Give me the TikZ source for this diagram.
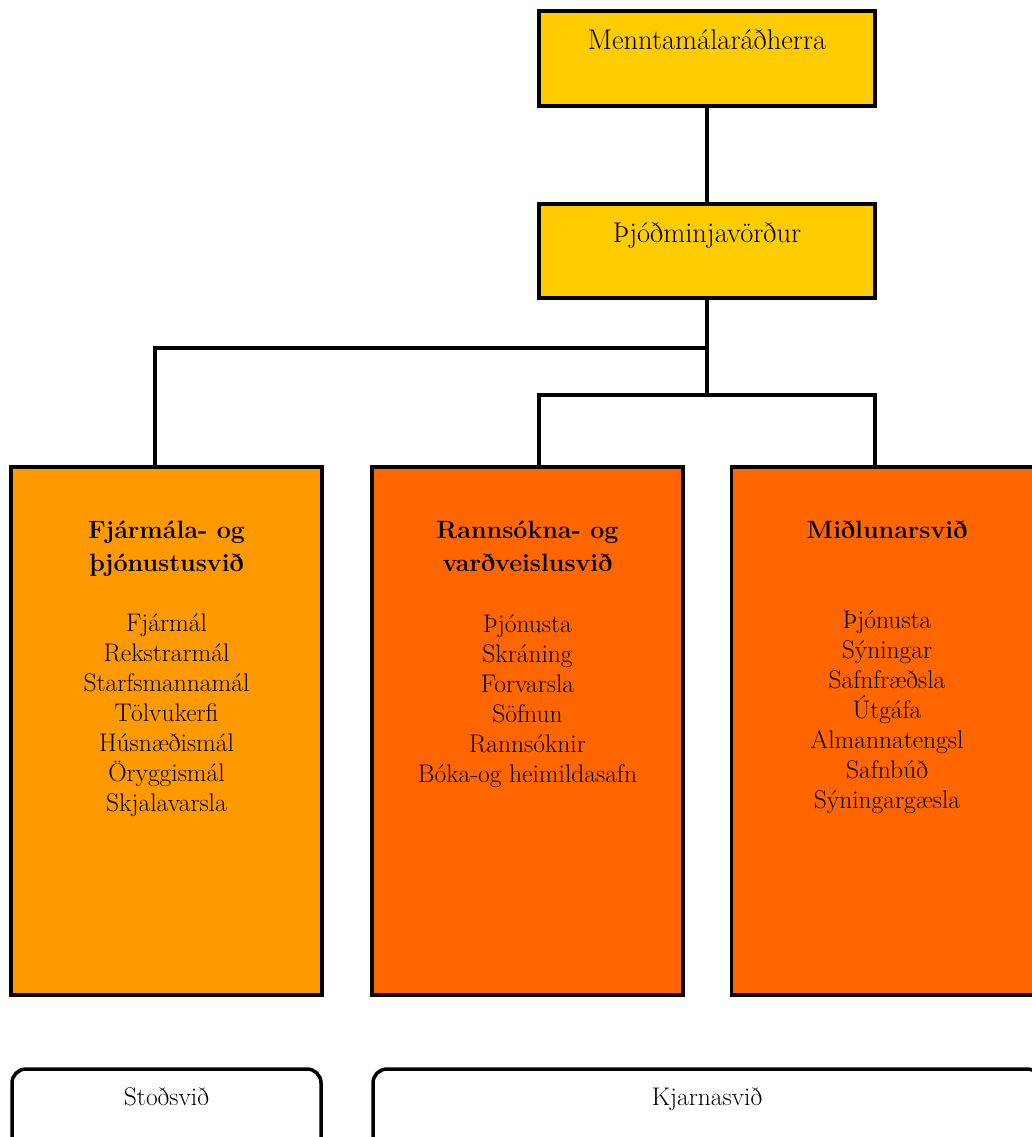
\documentclass[tikz,border=0pt]{standalone}
\usepackage{fontspec}
\definecolor{topyellow}{HTML}{FFCC00}
\definecolor{lightorange}{HTML}{FF9900}
\definecolor{darkorange}{HTML}{FF6600}
\tikzset{
  box/.style={draw=black, line width=3.5pt, inner sep=0pt},
  conn/.style={draw=black, line width=3.5pt},
  rbox/.style={draw=black, line width=3.5pt, rounded corners=14pt, inner sep=0pt},
  txt/.style={inner sep=0pt, anchor=base, align=center, font=\fontsize{25.5}{30}\selectfont},
  toptxt/.style={inner sep=0pt, anchor=base, align=center, font=\fontsize{28.5}{32}\selectfont},
  ttl/.style={inner sep=0pt, anchor=base, align=center, font=\fontsize{25}{33}\selectfont\bfseries},
}
\begin{document}
\begin{tikzpicture}[x=1pt,y=-1pt]
\useasboundingbox (0,0) rectangle (1032,1137);
\clip (0,0) rectangle (1032,1137);
% top boxes
\node[box, fill=topyellow, minimum width=336pt, minimum height=95pt] (M) at (707,58.5) {};
\node[box, fill=topyellow, minimum width=336pt, minimum height=94pt] (P) at (707,251) {};
\node[toptxt] (Mt) at (707,50) {Menntamálaráðherra};
\node[toptxt] (Pt) at (707,242) {Þjóðminjavörður};
% division boxes
\node[box, fill=lightorange, minimum width=311pt, minimum height=528pt] (A) at (166.5,731) {};
\node[box, fill=darkorange, minimum width=311pt, minimum height=528pt] (B) at (527.5,731) {};
\node[box, fill=darkorange, minimum width=311pt, minimum height=528pt] (C) at (887,731) {};
% connectors
\coordinate (j1) at (707,348);
\coordinate (j2) at (707,395);
\draw[conn] (M.south) -- (P.north);
\draw[conn] (P.south) -- (j2);
\draw[conn] (j1) -| ([xshift=-11.5pt]A.north);
\draw[conn] ([xshift=11.5pt]B.north) |- (j2) -| ([xshift=-12pt]C.north);
% titles (anchor base = baseline of last line)
\node[ttl] (At) at (166.5,571) {Fjármála- og\\þjónustusvið};
\node[ttl] (Bt) at (527.5,571) {Rannsókna- og\\varðveislusvið};
\node[ttl] (Ct) at (887,538) {Miðlunarsvið};
% lists (anchor base = baseline of last line)
\node[txt] (Al) at (166.5,811) {Fjármál\\Rekstrarmál\\Starfsmannamál\\Tölvukerfi\\Húsnæðismál\\Öryggismál\\Skjalavarsla};
\node[txt] (Bl) at (527.5,782) {Þjónusta\\Skráning\\Forvarsla\\Söfnun\\Rannsóknir\\Bóka-og heimildasafn};
\node[txt] (Cl) at (887,808) {Þjónusta\\Sýningar\\Safnfræðsla\\Útgáfa\\Almannatengsl\\Safnbúð\\Sýningargæsla};
% bottom boxes
\node[rbox, minimum width=309pt, minimum height=101pt] (SB) at (166.5,1119.5) {};
\node[rbox, minimum width=668pt, minimum height=101pt] (KB) at (707,1119.5) {};
\node[txt] (S) at (166.5,1105) {Stoðsvið};
\node[txt] (K) at (707,1105) {Kjarnasvið};
\end{tikzpicture}
\end{document}
